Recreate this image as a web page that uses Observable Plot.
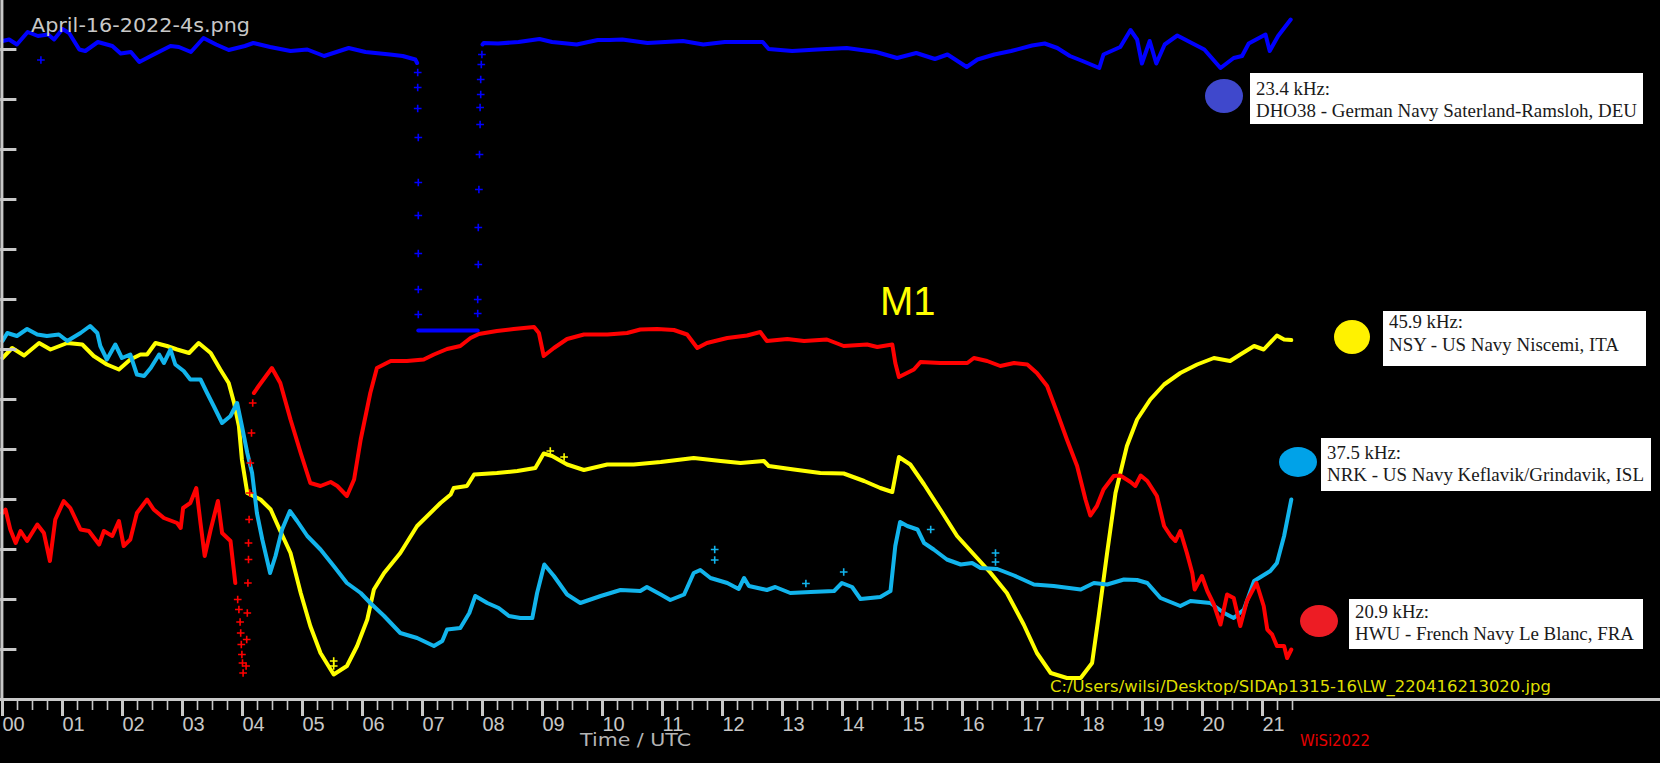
<!DOCTYPE html>
<html>
<head>
<meta charset="utf-8">
<script src="https://cdn.jsdelivr.net/npm/d3@7"></script>
<script src="https://cdn.jsdelivr.net/npm/@observablehq/plot@0.6"></script>
<style>
  html, body { margin: 0; padding: 0; background: #000; }
  #chart { width: 1660px; height: 763px; overflow: hidden; }
</style>
</head>
<body>
<div id="chart"></div>
<script>
// ---- DATA (hours UTC, relative signal level) ----
const hours = d3.range(0, 22);
const hourLabels = hours.map(h => String(h).padStart(2, "0"));
const quarterTicks = d3.range(0, 21.51, 0.25).filter(t => t % 1 !== 0);
const levelTicks = d3.range(1, 14);

// DHO38 23.4 kHz (blue)
const dhoBefore = [[0.00,13.17],[0.11,13.20],[0.24,13.10],[0.42,13.35],[0.59,13.27],[0.76,13.30],[0.86,13.20],[1.00,13.41],[1.11,13.33],[1.28,13.00],[1.38,12.97],[1.59,13.15],[1.83,13.07],[1.97,12.92],[2.14,12.95],[2.28,12.75],[2.52,12.90],[2.80,13.07],[2.94,13.05],[3.14,12.95],[3.35,13.23],[3.56,13.10],[3.77,12.99],[4.04,13.07],[4.18,13.13],[4.46,13.05],[4.80,12.97],[5.08,13.00],[5.36,12.87],[5.77,13.03],[6.05,12.95],[6.46,12.90],[6.67,12.87],[6.88,12.80],[6.91,12.73]];
const dhoFloor = [[6.93,7.38],[7.92,7.38]];
const dhoAfter = [[8.00,13.10],[8.02,13.13],[8.26,13.12],[8.60,13.15],[8.95,13.21],[9.16,13.15],[9.57,13.10],[9.92,13.19],[10.12,13.19],[10.33,13.20],[10.75,13.13],[11.34,13.17],[11.68,13.10],[12.04,13.15],[12.67,13.15],[12.77,13.01],[13.16,12.97],[13.58,13.00],[14.07,13.03],[14.56,12.95],[14.91,12.83],[15.23,12.93],[15.54,12.81],[15.75,12.90],[16.07,12.65],[16.25,12.80],[16.53,12.90],[16.81,12.97],[17.16,13.08],[17.37,13.12],[17.58,13.03],[17.79,12.87],[18.00,12.77],[18.28,12.63],[18.35,12.90],[18.63,13.05],[18.80,13.39],[18.91,13.20],[18.99,12.72],[19.12,13.17],[19.23,12.72],[19.37,13.10],[19.58,13.28],[19.82,13.13],[20.03,13.00],[20.30,12.63],[20.52,12.83],[20.66,12.87],[20.77,13.12],[21.05,13.30],[21.12,12.97],[21.26,13.27],[21.47,13.60]];
const dhoSparse = [[0.64,12.79],[6.92,12.54],[6.92,12.24],[6.92,11.82],[6.93,11.24],[6.93,10.34],[6.93,9.68],[6.93,8.92],[6.93,8.20],[6.93,7.70],[7.92,7.72],[7.92,8.00],[7.93,8.70],[7.93,9.44],[7.94,10.20],[7.95,10.90],[7.96,11.50],[7.96,11.84],[7.97,12.10],[7.97,12.40],[7.98,12.70],[7.99,12.90]];

// NSY 45.9 kHz (yellow)
const nsy = [[0.00,6.83],[0.16,7.03],[0.36,6.88],[0.61,7.13],[0.80,7.00],[1.08,7.13],[1.33,7.10],[1.52,6.87],[1.74,6.70],[1.94,6.60],[2.13,6.80],[2.30,6.90],[2.41,6.90],[2.55,7.13],[2.74,7.07],[2.91,7.00],[3.11,6.93],[3.27,7.13],[3.47,6.93],[3.63,6.60],[3.77,6.33],[3.86,5.93],[3.94,5.47],[3.99,4.80],[4.08,4.13],[4.30,4.00],[4.47,3.80],[4.63,3.37],[4.80,2.93],[4.97,2.13],[5.13,1.47],[5.30,0.93],[5.52,0.50],[5.74,0.67],[5.91,1.07],[6.08,1.60],[6.19,2.20],[6.36,2.53],[6.63,2.93],[6.91,3.47],[7.30,3.93],[7.47,4.10],[7.52,4.23],[7.74,4.27],[7.86,4.50],[8.24,4.53],[8.58,4.57],[8.88,4.63],[9.02,4.92],[9.16,4.87],[9.41,4.70],[9.69,4.59],[10.08,4.70],[10.52,4.70],[10.97,4.75],[11.52,4.83],[11.97,4.77],[12.30,4.73],[12.69,4.77],[12.77,4.67],[13.19,4.60],[13.63,4.53],[14.02,4.52],[14.36,4.37],[14.63,4.23],[14.83,4.15],[14.94,4.85],[15.13,4.70],[15.36,4.30],[15.63,3.80],[15.91,3.27],[16.19,2.90],[16.47,2.53],[16.74,2.13],[17.02,1.50],[17.24,0.93],[17.47,0.53],[17.74,0.43],[17.97,0.43],[18.16,0.73],[18.27,1.67],[18.41,2.93],[18.55,4.13],[18.74,5.07],[18.91,5.60],[19.13,6.00],[19.36,6.30],[19.63,6.53],[19.91,6.70],[20.19,6.83],[20.46,6.77],[20.63,6.90],[20.86,7.07],[21.02,7.00],[21.24,7.28],[21.36,7.20],[21.48,7.19]];
const nsySparse = [[5.52,0.77],[5.52,0.67],[9.13,4.97],[9.36,4.85]];

// NRK 37.5 kHz (cyan)
const nrk = [[0.00,7.17],[0.08,7.33],[0.24,7.27],[0.41,7.41],[0.58,7.30],[0.74,7.27],[0.94,7.30],[1.08,7.17],[1.30,7.33],[1.46,7.47],[1.58,7.33],[1.63,7.07],[1.74,6.80],[1.88,7.10],[1.99,6.83],[2.13,6.90],[2.24,6.50],[2.36,6.47],[2.47,6.63],[2.61,6.90],[2.69,6.73],[2.80,7.00],[2.88,6.70],[3.02,6.57],[3.13,6.40],[3.30,6.40],[3.41,6.13],[3.52,5.87],[3.66,5.53],[3.80,5.67],[3.91,5.93],[3.99,5.47],[4.08,4.93],[4.16,4.53],[4.24,3.73],[4.33,3.20],[4.46,2.53],[4.55,2.87],[4.66,3.40],[4.79,3.77],[4.91,3.57],[5.08,3.27],[5.30,3.00],[5.52,2.67],[5.74,2.33],[5.97,2.13],[6.13,1.93],[6.36,1.67],[6.63,1.33],[6.91,1.23],[7.19,1.07],[7.33,1.17],[7.41,1.40],[7.63,1.43],[7.78,1.73],[7.88,2.07],[8.08,1.93],[8.27,1.83],[8.44,1.67],[8.63,1.63],[8.83,1.63],[8.91,2.13],[9.03,2.70],[9.19,2.47],[9.41,2.10],[9.63,1.93],[9.97,2.07],[10.30,2.19],[10.63,2.17],[10.74,2.25],[10.97,2.10],[11.13,1.99],[11.36,2.10],[11.52,2.53],[11.63,2.59],[11.80,2.43],[12.08,2.33],[12.27,2.21],[12.36,2.43],[12.44,2.27],[12.74,2.19],[12.88,2.25],[13.13,2.13],[13.47,2.15],[13.86,2.17],[13.99,2.33],[14.16,2.25],[14.30,2.01],[14.63,2.05],[14.80,2.17],[14.88,3.07],[14.96,3.55],[15.08,3.47],[15.25,3.40],[15.36,3.13],[15.52,3.00],[15.74,2.80],[15.97,2.70],[16.16,2.73],[16.30,2.63],[16.58,2.61],[16.86,2.48],[17.19,2.30],[17.52,2.27],[17.97,2.20],[18.19,2.33],[18.41,2.30],[18.69,2.40],[18.91,2.39],[19.08,2.33],[19.30,2.03],[19.63,1.87],[19.80,1.97],[20.13,1.93],[20.36,1.73],[20.52,1.63],[20.69,1.80],[20.86,2.37],[21.13,2.57],[21.24,2.73],[21.36,3.27],[21.48,4.00]];
const nrkSparse = [[11.87,3.00],[11.87,2.79],[15.47,3.40],[16.55,2.93],[16.55,2.75],[13.39,2.32],[14.02,2.55]];

// HWU 20.9 kHz (red)
const hwuNight = [[0.00,3.73],[0.05,3.80],[0.13,3.40],[0.22,3.13],[0.30,3.37],[0.41,3.17],[0.58,3.50],[0.69,3.33],[0.79,2.77],[0.88,3.60],[1.02,3.97],[1.13,3.83],[1.30,3.40],[1.44,3.37],[1.61,3.10],[1.69,3.37],[1.83,3.27],[1.94,3.57],[2.02,3.07],[2.13,3.20],[2.24,3.73],[2.41,4.00],[2.52,3.80],[2.69,3.63],[2.91,3.53],[2.97,3.43],[3.01,3.83],[3.13,3.93],[3.23,4.23],[3.30,3.53],[3.37,2.87],[3.47,3.40],[3.59,3.97],[3.66,3.33],[3.80,3.17],[3.88,2.33]];
const hwuDay = [[4.19,6.13],[4.27,6.27],[4.49,6.63],[4.63,6.33],[4.80,5.60],[4.97,4.93],[5.13,4.33],[5.30,4.27],[5.47,4.35],[5.58,4.27],[5.74,4.07],[5.86,4.40],[5.97,5.20],[6.13,6.13],[6.24,6.63],[6.47,6.77],[6.74,6.77],[7.02,6.80],[7.19,6.90],[7.41,7.01],[7.63,7.07],[7.80,7.23],[7.94,7.31],[8.24,7.37],[8.52,7.41],[8.86,7.45],[8.94,7.33],[9.02,6.87],[9.19,7.03],[9.41,7.21],[9.69,7.30],[10.08,7.30],[10.41,7.33],[10.63,7.40],[10.91,7.41],[11.19,7.39],[11.41,7.30],[11.58,7.03],[11.74,7.13],[12.08,7.23],[12.41,7.28],[12.63,7.35],[12.74,7.17],[13.08,7.21],[13.36,7.17],[13.74,7.20],[14.02,7.07],[14.41,7.10],[14.58,7.05],[14.83,7.10],[14.88,6.73],[14.94,6.45],[15.19,6.60],[15.30,6.75],[15.63,6.73],[16.08,6.73],[16.19,6.83],[16.41,6.77],[16.63,6.67],[16.86,6.73],[17.08,6.70],[17.24,6.53],[17.41,6.27],[17.58,5.73],[17.74,5.20],[17.91,4.67],[18.05,4.00],[18.13,3.68],[18.24,3.87],[18.35,4.20],[18.52,4.47],[18.63,4.48],[18.80,4.35],[18.88,4.27],[18.97,4.48],[19.08,4.37],[19.24,4.07],[19.36,3.47],[19.47,3.27],[19.55,3.17],[19.63,3.37],[19.74,2.93],[19.83,2.53],[19.87,2.20],[19.99,2.47],[20.08,2.17],[20.19,1.90],[20.30,1.50],[20.41,2.10],[20.52,2.03],[20.63,1.47],[20.74,1.97],[20.90,2.33],[21.02,1.87],[21.08,1.40],[21.16,1.30],[21.24,1.07],[21.36,1.07],[21.41,0.83],[21.48,1.00]];
const hwuSparse = [[3.92,2.00],[3.94,1.80],[3.96,1.55],[3.97,1.33],[3.98,1.10],[3.99,0.90],[4.00,0.73],[4.01,0.53],[4.06,0.67],[4.07,1.20],[4.08,1.73],[4.09,2.33],[4.10,2.80],[4.10,3.13],[4.11,3.60],[4.12,4.13],[4.13,4.73],[4.15,5.33],[4.17,5.93]];

// Legend
const freqLabels = ["23.4 kHz:", "45.9 kHz:", "37.5 kHz:", "20.9 kHz:"];
const stationLabels = ["DHO38 - German Navy Saterland-Ramsloh, DEU", "NSY - US Navy Niscemi, ITA", "NRK - US Navy Keflavik/Grindavik, ISL", "HWU - French Navy Le Blanc, FRA"];
const blotColors = ["#3f48cc", "#fff200", "#00a2e8", "#ed1c24"];

// ---- CHART ----
const BLUE = "#0000ff", YELLOW = "#ffff00", CYAN = "#12b4ec", RED = "#ff0000", GREY = "#c8c8c8";
const px = {x: d => d[0], y: d => d[1]};
const lineOpts = (c) => ({...px, stroke: c, strokeWidth: 4, strokeLinejoin: "round", strokeLinecap: "round"});
const dotOpts = (c) => ({...px, symbol: "plus", r: 2.6, stroke: c, strokeWidth: 1.6});

const chart = Plot.plot({
  width: 1660,
  height: 763,
  marginTop: 0, marginRight: 0, marginBottom: 64, marginLeft: 0,
  x: {domain: [0, 21], range: [2, 1262], axis: null},
  y: {domain: [0, 14], range: [699, -1], axis: null},
  style: {background: "#000", color: GREY, fontFamily: "'Liberation Sans Narrow', 'Arial Narrow', 'Liberation Sans', sans-serif", overflow: "visible"},
  marks: [
    // series
    Plot.line(dhoBefore, lineOpts(BLUE)),
    Plot.line(dhoFloor, lineOpts(BLUE)),
    Plot.line(dhoAfter, lineOpts(BLUE)),
    Plot.dot(dhoSparse, dotOpts(BLUE)),
    Plot.line(nsy, lineOpts(YELLOW)),
    Plot.dot(nsySparse, dotOpts(YELLOW)),
    Plot.line(nrk, lineOpts(CYAN)),
    Plot.dot(nrkSparse, dotOpts(CYAN)),
    Plot.line(hwuNight, lineOpts(RED)),
    Plot.line(hwuDay, lineOpts(RED)),
    Plot.dot(hwuSparse, dotOpts(RED)),
    // axes
    Plot.ruleX([-0.01], {stroke: GREY, strokeWidth: 3}),
    Plot.ruleY(levelTicks, {x1: -0.03, x2: 0.24, stroke: GREY, strokeWidth: 3}),
    Plot.ruleY([0], {stroke: GREY, strokeWidth: 3}),
    Plot.axisX(quarterTicks, {anchor: "bottom", tickSize: 11, strokeWidth: 1.6, color: GREY, tickFormat: () => "", label: null}),
    Plot.axisX(hours, {anchor: "bottom", tickSize: 17, strokeWidth: 3, color: GREY, tickPadding: 0,
      tickFormat: d => hourLabels[d], textAnchor: "start", dx: 0, fontSize: 20, label: null})
  ]
});

document.getElementById("chart").appendChild(chart);

// ---- annotations and legend ----
const svg = d3.select(chart);
const ann = svg.append("g").attr("text-anchor", "start");
function txt(t, x, y, size, fill, family, len) {
  const el = ann.append("text").attr("x", x).attr("y", y).attr("fill", fill)
    .attr("text-anchor", "start")
    .style("font-family", family).style("font-size", size + "px").text(t);
  if (len) el.attr("textLength", len).attr("lengthAdjust", "spacingAndGlyphs");
  return el;
}
const DV = "'DejaVu Sans', sans-serif";
txt("April-16-2022-4s.png", 31, 32, 19, GREY, DV, 219);
txt("M1", 880, 315, 40, "#ffff00", "'Liberation Sans', Arial, sans-serif");
txt("C:/Users/wilsi/Desktop/SIDAp1315-16\\LW_220416213020.jpg", 1050, 692, 15.5, "#dede00", DV, 501);
txt("Time / UTC", 580, 746, 18, "#b4b4b4", DV, 111);
txt("WiSi2022", 1300, 746, 16, "#e60000", DV, 70);

const boxes = [
  {x: 1250, y: 73, w: 393, h: 51, tx: 1256, b1: 95, b2: 117, cx: 1224, cy: 96, rx: 19, ry: 17, len: 381},
  {x: 1383, y: 311, w: 263, h: 55, tx: 1389, b1: 328, b2: 351, cx: 1352, cy: 337, rx: 18, ry: 17, len: 230},
  {x: 1321, y: 438, w: 330, h: 53, tx: 1327, b1: 459, b2: 481, cx: 1298, cy: 462, rx: 19, ry: 15, len: 317},
  {x: 1349, y: 599, w: 294, h: 50, tx: 1355, b1: 618, b2: 640, cx: 1319, cy: 621, rx: 19, ry: 16, len: 279}
];
const SERIF = "'Liberation Serif', 'Times New Roman', serif";
boxes.forEach((b, i) => {
  ann.append("rect").attr("x", b.x).attr("y", b.y).attr("width", b.w).attr("height", b.h).attr("fill", "#fff");
  ann.append("ellipse").attr("cx", b.cx).attr("cy", b.cy).attr("rx", b.rx).attr("ry", b.ry).attr("fill", blotColors[i]);
  txt(freqLabels[i], b.tx, b.b1, 19.5, "#1a1a1a", SERIF, 74);
  txt(stationLabels[i], b.tx, b.b2, 19.5, "#1a1a1a", SERIF, b.len);
});
</script>
</body>
</html>
